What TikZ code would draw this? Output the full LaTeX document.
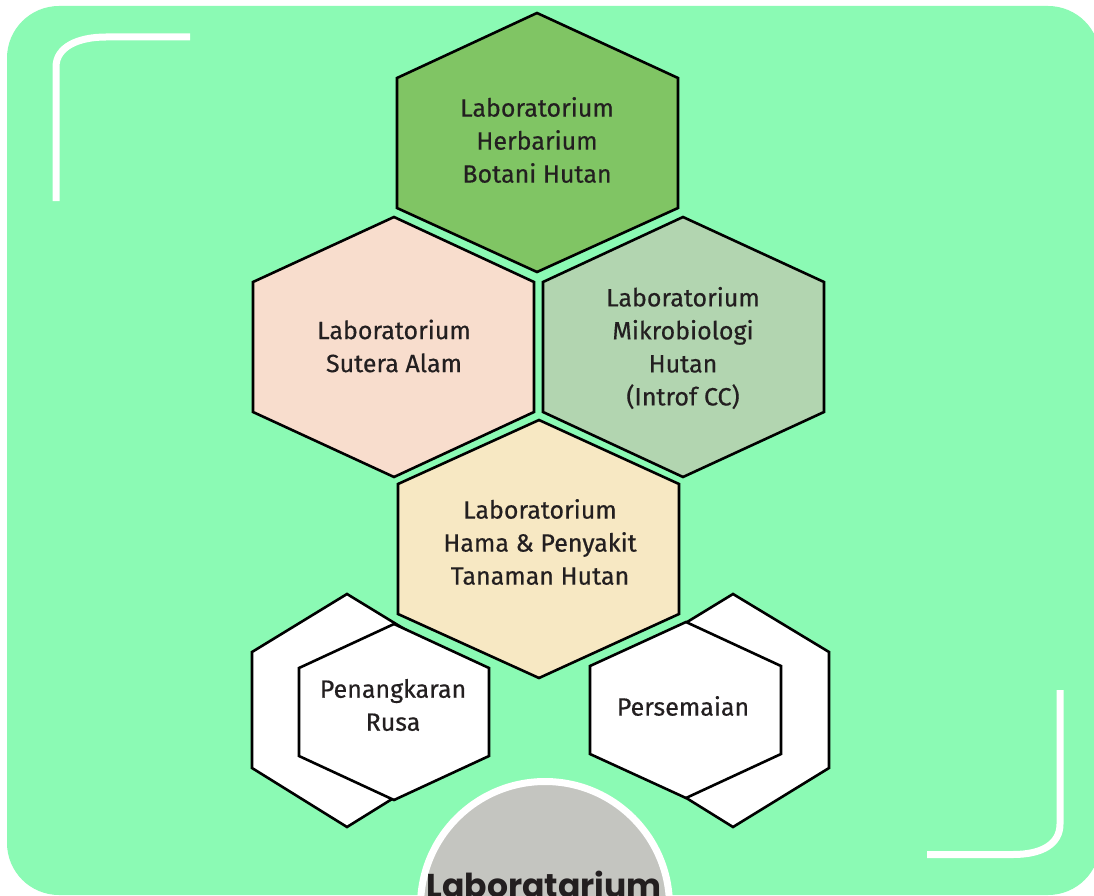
\documentclass[tikz,border=0pt]{standalone}
\usepackage{fontspec}
\setmainfont{Fira Sans}
\newfontfamily\labfont{Fira Sans}[FakeBold=0.45]
\newfontfamily\titlefont{Poppins}
\definecolor{mint}{HTML}{8BFAB4}
\definecolor{leaf}{HTML}{80C564}
\definecolor{peach}{HTML}{F8DDCD}
\definecolor{sage}{HTML}{B2D5B0}
\definecolor{cream}{HTML}{F7E8C3}
\definecolor{stone}{HTML}{C4C5C0}
\definecolor{ink}{HTML}{231F20}
\tikzset{
  hexa/.style={draw=black, line width=2.6pt, line join=miter},
  labtext/.style={text=ink, align=center, font=\labfont\fontsize{25}{33}\selectfont},
  bracket/.style={white, line width=7pt}
}

\begin{document}
\begin{tikzpicture}[x=1pt,y=-1pt]
      \path[use as bounding box, clip] (0,0) rectangle (1094,896);
      \fill[white] (0,0) rectangle (1094,896);

      % Panel
      \fill[mint, rounded corners=52pt] (7,6) rectangle (1100,895);

      % Corner brackets
      \draw[bracket] (56,201) -- (56,67) .. controls (56,47) and (78,37) .. (106,37) -- (190,37);
      \draw[bracket] (1060,690) -- (1060,824) .. controls (1060,844) and (1042,854.5) .. (1013,854.5) -- (927,854.5);

      % Hexagon for Herbarium
      \filldraw[hexa, fill=leaf] (537,13) -- (678,78) -- (678,208) -- (537,272) -- (397,208) -- (397,78) -- cycle;
      \node[labtext] (herbarium) at (537,140) {Laboratorium\\Herbarium\\Botani Hutan};

      % Hexagon for Sutera Alam
      \filldraw[hexa, fill=peach] (394,217) -- (534,282) -- (534,412) -- (394,477) -- (253,412) -- (253,282) -- cycle;
      \node[labtext] (sutera) at (394,346) {Laboratorium\\Sutera Alam};

      % Hexagon for Mikrobiologi
      \filldraw[hexa, fill=sage] (683,217) -- (824,282) -- (824,412) -- (683,477) -- (543,412) -- (543,282) -- cycle;
      \node[labtext] (mikro) at (683,348) {Laboratorium\\Mikrobiologi\\Hutan\\(Introf CC)};

      % Hexagon for Hama & Penyakit
      \filldraw[hexa, fill=cream] (539,420) -- (679,484) -- (679,614) -- (539,678) -- (398,614) -- (398,484) -- cycle;
      \node[labtext] (hama) at (540,542) {Laboratorium\\Hama \& Penyakit\\Tanaman Hutan};

      % Double hexagon for Penangkaran Rusa
      \filldraw[hexa, fill=white] (347,594) -- (442,652) -- (442,768) -- (347,827) -- (252,768) -- (252,652) -- cycle;
      \filldraw[hexa, fill=white] (394,624) -- (489,668) -- (489,756) -- (394,800) -- (299,756) -- (299,668) -- cycle;
      \node[labtext] (rusa) at (393,705) {Penangkaran\\Rusa};

      % Double hexagon for Persemaian
      \filldraw[hexa, fill=white] (733,594) -- (829,652) -- (829,768) -- (733,827) -- (638,768) -- (638,652) -- cycle;
      \filldraw[hexa, fill=white] (686,622) -- (781,666) -- (781,754) -- (686,798) -- (590,754) -- (590,666) -- cycle;
      \node[labtext] (semai) at (683,706) {Persemaian};

      % Circle at the bottom
      \filldraw[white, line width=7pt, fill=stone] (545,906) circle (124.5pt);
      \node[text=ink, anchor=base, font=\titlefont\bfseries\fontsize{33}{33}\selectfont] (title) at (544,897) {Laboratarium};
    \end{tikzpicture}
\end{document}
